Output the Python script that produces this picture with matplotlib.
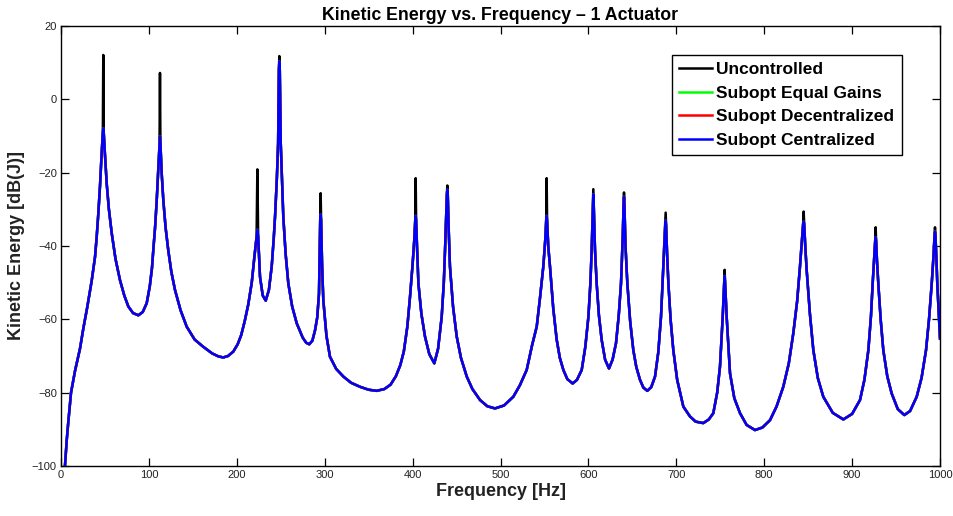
import numpy as np
import matplotlib
matplotlib.use("Agg")
import matplotlib.pyplot as plt

plt.rcParams['font.family'] = ['Liberation Sans', 'DejaVu Sans']

# ---- data -------------------------------------------------------------
# shared curve (all four series coincide away from the resonance tips)
base_freq = [4.5, 6.5, 8.3, 11.4, 16, 21.6, 25.4, 30, 34.9, 38.7, 40.6, 42.5, 44.4, 46.2, 47.6,
             48.6, 50, 52, 54.5, 57.7, 62, 67.1, 72, 76.6, 82, 88, 93, 97.5, 101, 103.5, 105, 107,
             108.8, 110.5, 112.1,
             113.1, 114.5, 116.4, 119, 122, 125.5, 129.7, 136, 143, 152, 161.9, 172, 179, 184.6, 190,
             196, 201, 205, 209, 213, 217, 220, 222.5,
             224.3, 226.4, 229.5, 232.9, 236.5, 239.7, 242, 243.5, 245.5, 247, 247.9,
             248.9, 250, 251.5, 252.9, 255.5, 258.6, 263, 268.2, 275, 279, 282.5, 286, 289, 291.5,
             293.5, 294.9,
             295.9, 297, 298.4, 302, 306, 313, 321.2, 330, 340.2, 350, 359.2, 368, 375, 381, 386,
             390, 394, 397, 400, 402, 403,
             404, 405, 406.6, 410, 414.1, 419, 424.7, 429, 433.1, 435.5, 436.9, 438, 439,
             440, 441, 442.5, 446, 450.2, 455, 461.6, 468, 476.7, 485, 493.7, 504, 514.6, 522, 529.8,
             536, 541.2, 545, 548.7, 551, 552,
             553, 554.3, 556.3, 560, 563.9, 567.5, 571.5, 576, 582.1, 587, 592.4, 596.5, 600, 602.3,
             603.7, 605,
             606.2, 607.5, 609.4, 612, 615.1, 619, 623.4, 627.5, 631.4, 634.5, 637.1, 639, 640,
             641, 642.2, 644.3, 647.5, 651.1, 654.5, 658.7, 662.5, 667, 671.5, 675.8, 679.5, 682.6,
             685.2, 686.7, 687.4,
             688.4, 689.5, 691, 693.5, 696.6, 701, 708, 715.6, 722, 730.7, 737, 742.1, 746.5, 749.7,
             752.8, 754.5,
             755.5, 757.3, 761.1, 766, 772.5, 780, 789.5, 798, 806.6, 814, 821.7, 828, 833.1, 837.5,
             840.7, 843, 844.3,
             845.5, 846.7, 848.3, 852, 855.9, 861, 867.2, 878, 890, 900, 909, 914, 918.5, 921.5, 923.4,
             925.5, 926.3,
             927.3, 928.3, 929.8, 932.5, 935.5, 940, 945, 952, 959.4, 966, 973.5, 979, 984.1, 987.5,
             990.6, 992.8, 993.8,
             994.8, 996, 996.9, 998.5, 1000]
base_db = [-100, -93, -88, -80, -74, -68, -62.5, -56.5, -49.5, -43, -37.5, -31, -23.5, -15, -9,
           -9, -15, -23, -30, -36.5, -43.5, -49.3, -53.5, -56.5, -58.3, -58.9, -58, -55.6, -51, -46,
           -41.1, -35, -28, -20, -12,
           -12, -20, -27.5, -35, -41.1, -47, -52, -57.5, -62, -65.5, -67.5, -69.3, -70.1, -70.4, -70,
           -68.8, -66.8, -64.3, -60.5, -56, -50, -43, -37.5,
           -37.5, -48.4, -53.5, -54.9, -52, -45.6, -38, -32, -22, -12, 8,
           8, -12, -22, -32, -42, -50.2, -56.5, -61.1, -65, -66.4, -66.8, -65.8, -63, -59.5,
           -53, -33,
           -33, -45, -54.7, -64.5, -70.2, -73.5, -75.6, -77.3, -78.4, -79.2, -79.5, -79, -77.8, -75.5,
           -72.5, -68.8, -62, -54, -45, -38, -33,
           -33, -40, -50.2, -58.5, -64.7, -69.5, -72, -68, -59.3, -50, -41.1, -33, -26,
           -26, -35, -45.6, -56.5, -64.7, -70.5, -75.6, -79, -82, -83.7, -84.3, -83.5, -81.1, -78,
           -73.8, -67, -62, -54, -45.6, -38, -33,
           -33, -40, -45.6, -57, -65.5, -70.5, -73.8, -76.3, -77.5, -76.5, -73.8, -67.5, -59.3, -50,
           -41.1, -30,
           -30, -41, -50.2, -59, -65.6, -71, -73.4, -71, -66.5, -59, -50.2, -38, -29,
           -29, -40, -50.2, -60.5, -68.4, -73, -76.5, -78.6, -79.5, -78.5, -75.6, -69, -59.3,
           -45.6, -38, -34.5,
           -34.5, -42, -50.2, -60, -68.4, -76.5, -83.8, -86.5, -87.9, -88.3, -87.3, -85.6, -80,
           -72.9, -59.3, -50,
           -50, -59.3, -74.7, -81.5, -85.6, -88.8, -90.2, -89.5, -87.5, -83.8, -78.4, -72, -63.8,
           -55, -45.6, -38, -34,
           -34, -40, -46.5, -58.5, -68.4, -76, -81.1, -85.5, -87.3, -85.8, -82, -76.5, -68.4, -59,
           -50.2, -42, -38.5,
           -38.5, -44, -50.2, -60, -68.4, -75.5, -80.2, -84.5, -86.1, -85, -81.1, -76, -68.4, -60,
           -50.2, -42, -37,
           -37, -44, -50.2, -58, -65.2]

# resonance tips
peak_freq = [48.1, 112.6, 223.4, 248.4, 295.4, 403.5, 439.5, 552.5, 605.6, 640.5,
             687.9, 755.0, 844.9, 926.8, 994.3]
uncontrolled_peak = [12.1, 7.2, -19.1, 11.8, -25.6, -21.5, -23.5, -21.5, -24.5, -25.4,
                     -30.9, -46.5, -30.6, -34.9, -34.9]
equal_gains_peak = [-7.9, -10.2, -35.6, 10.3, -31.5, -31.8, -24.7, -31.8, -25.9, -26.6,
                    -33.1, -48.2, -33.4, -37.6, -36.1]
decentralized_peak = [-7.9, -10.2, -35.6, 10.3, -31.5, -31.8, -24.7, -31.8, -25.9, -26.6,
                      -33.1, -48.2, -33.4, -37.6, -36.1]
centralized_peak = [-7.9, -10.2, -35.6, 10.3, -31.5, -31.8, -24.7, -31.8, -25.9, -26.6,
                    -33.1, -48.2, -33.4, -37.6, -36.1]

series_names = ['Uncontrolled', 'Subopt Equal Gains', 'Subopt Decentralized', 'Subopt Centralized']
series_peaks = [uncontrolled_peak, equal_gains_peak, decentralized_peak, centralized_peak]
series_colors = ['#000000', '#00ff00', '#ff0000', '#0000ff']


def build(peaks):
    f = np.array(base_freq + peak_freq, dtype=float)
    d = np.array(base_db + peaks, dtype=float)
    order = np.argsort(f, kind='stable')
    return f[order], d[order]


fig = plt.figure(figsize=(9.54, 5.16), dpi=100)
ax = fig.add_axes([61 / 954, 1 - 466 / 516, (940 - 61) / 954, (466 - 26) / 516])

for name, pk, col in zip(series_names, series_peaks, series_colors):
    f, d = build(pk)
    ax.plot(f, d, color=col, lw=1.8, label=name, solid_joinstyle='round')

ax.set_xlim(0, 1000)
ax.set_ylim(-100, 20)
ax.set_xticks(np.arange(0, 1001, 100))
ax.set_yticks(np.arange(-100, 21, 20))
ax.tick_params(direction='in', length=6, width=0.9, top=True, right=True,
               labelsize=8, pad=3, colors='black', labelcolor='#222222')
for s in ax.spines.values():
    s.set_linewidth(1.0)

ax.set_title('Kinetic Energy vs. Frequency \u2013 1 Actuator', fontsize=12.8, fontweight='bold', pad=4)
ax.set_xlabel('Frequency [Hz]', fontsize=13, fontweight='bold', labelpad=2, color='#222222')
ax.set_ylabel('Kinetic Energy [dB(J)]', fontsize=13, fontweight='bold', labelpad=5, color='#222222')

leg = ax.legend(loc='upper left', bbox_to_anchor=((671.7 - 61) / 879, 1 - (55 - 26) / 440),
                borderaxespad=0, fancybox=False, framealpha=1, edgecolor='black',
                prop={'weight': 'bold', 'size': 12.5}, handlelength=1.9, handletextpad=0.25,
                labelspacing=0.48, borderpad=0.42)
leg.get_frame().set_linewidth(1.0)

fig.savefig('out.png', dpi=100)
